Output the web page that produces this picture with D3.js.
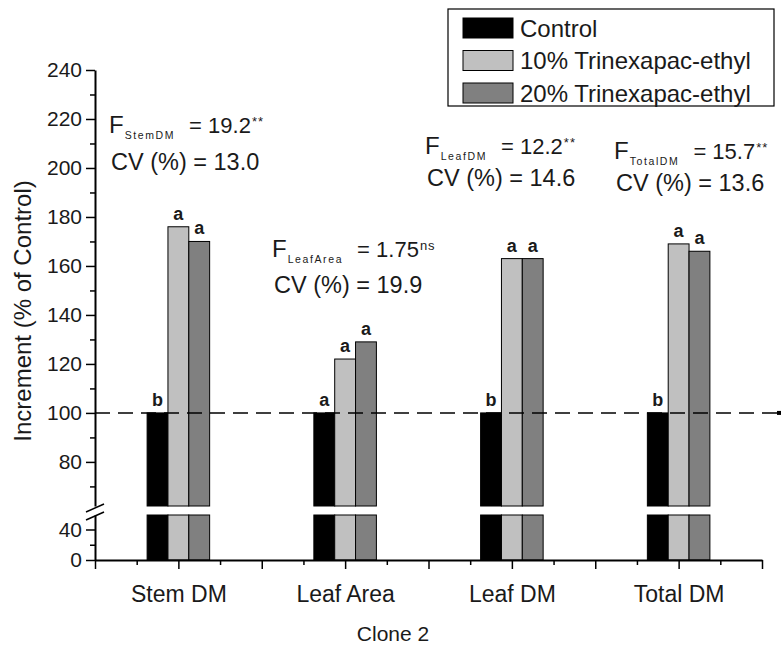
<!DOCTYPE html>
<html>
<head>
<meta charset="utf-8">
<script src="https://cdn.jsdelivr.net/npm/d3@7"></script>
<style>
body { margin: 0; background: #fff; }
text { font-family: Arial, "Liberation Sans", sans-serif; fill: #1a1a1a; }
</style>
</head>
<body>
<svg id="chart" width="783" height="646"></svg>
<script>
// values (Clone 2, % of control)
var categories = ["Stem DM", "Leaf Area", "Leaf DM", "Total DM"];
var seriesNames = ["Control", "10% Trinexapac-ethyl", "20% Trinexapac-ethyl"];
var control = [100, 100, 100, 100];
var trinexapac10 = [176, 122, 163, 169];
var trinexapac20 = [170, 129, 163, 166];
var controlLetters = ["b", "a", "b", "b"];
var letters10 = ["a", "a", "a", "a"];
var letters20 = ["a", "a", "a", "a"];
var fSubscripts = ["StemDM", "LeafArea", "LeafDM", "TotalDM"];
var fValues = ["19.2", "1.75", "12.2", "15.7"];
var fSignif = ["**", "ns", "**", "**"];
var cvValues = ["13.0", "19.9", "14.6", "13.6"];
var upperTicks = [80, 100, 120, 140, 160, 180, 200, 220, 240];
var upperMinor = [70, 90, 110, 130, 150, 170, 190, 210, 230];
var lowerTicks = [0, 40];
var lowerMinor = [20];

var colors = ["#000000", "#c0c0c0", "#808080"];
var series = [control, trinexapac10, trinexapac20];
var letters = [controlLetters, letters10, letters20];

var svg = d3.select("#chart");

var x = d3.scaleLinear().domain([0, 8]).range([95, 762]);
var yUp = d3.scaleLinear().domain([62, 240]).range([506, 70]);
var yLo = d3.scaleLinear().domain([0, 59]).range([560, 515]);
var barW = x(0.25) - x(0);
function catX(i) { return x(2 * i + 1); }

// bars, split at the axis break
series.forEach(function(vals, s) {
    var g = svg.append("g");
    vals.forEach(function(v, i) {
        var cx = catX(i) + (s - 1) * barW;
        g.append("rect")
            .attr("x", cx - barW / 2).attr("width", barW)
            .attr("y", yUp(v)).attr("height", yUp(62) - yUp(v))
            .attr("fill", colors[s]).attr("stroke", "#000").attr("stroke-width", 1);
        g.append("rect")
            .attr("x", cx - barW / 2).attr("width", barW)
            .attr("y", yLo(59)).attr("height", yLo(0) - yLo(59))
            .attr("fill", colors[s]).attr("stroke", "#000").attr("stroke-width", 1);
        svg.append("text")
            .attr("x", cx).attr("y", yUp(v) - 7)
            .attr("text-anchor", "middle")
            .style("font-size", "18px").style("font-weight", "bold")
            .text(letters[s][i]);
    });
});

// reference line at 100 %
svg.append("line")
    .attr("x1", x(0)).attr("x2", 780)
    .attr("y1", yUp(100)).attr("y2", yUp(100))
    .attr("stroke", "#000").attr("stroke-width", 1.5)
    .attr("stroke-dasharray", "15,8");
svg.append("rect").attr("x", 777).attr("y", yUp(100) - 2).attr("width", 4).attr("height", 4);

// y axis (two pieces)
function styleAxis(g) {
    g.selectAll("path").attr("stroke", "#000").attr("stroke-width", 2);
    g.selectAll("line").attr("stroke", "#000").attr("stroke-width", 1.5);
    g.selectAll("text").style("font-size", "21px").attr("fill", "#1a1a1a");
}
var yAxisUp = svg.append("g").attr("transform", "translate(" + x(0) + ",0)")
    .call(d3.axisLeft(yUp).tickValues(upperTicks).tickSize(9).tickSizeOuter(0).tickPadding(4));
styleAxis(yAxisUp);
var yAxisUpMinor = svg.append("g").attr("transform", "translate(" + x(0) + ",0)")
    .call(d3.axisLeft(yUp).tickValues(upperMinor).tickSize(5).tickFormat(""));
yAxisUpMinor.select(".domain").remove();
styleAxis(yAxisUpMinor);
var yAxisLo = svg.append("g").attr("transform", "translate(" + x(0) + ",0)")
    .call(d3.axisLeft(yLo).tickValues(lowerTicks).tickSize(9).tickSizeOuter(0).tickPadding(4));
styleAxis(yAxisLo);
var yAxisLoMinor = svg.append("g").attr("transform", "translate(" + x(0) + ",0)")
    .call(d3.axisLeft(yLo).tickValues(lowerMinor).tickSize(5).tickFormat(""));
yAxisLoMinor.select(".domain").remove();
styleAxis(yAxisLoMinor);

// break marks
[yUp(62) + 2, yLo(59) + 1].forEach(function(yy) {
    svg.append("line")
        .attr("x1", x(0) - 9).attr("y1", yy + 4)
        .attr("x2", x(0) + 9).attr("y2", yy - 4)
        .attr("stroke", "#000").attr("stroke-width", 1.5);
});

// x axis
var xAxis = svg.append("g").attr("transform", "translate(0," + yLo(0) + ")")
    .call(d3.axisBottom(x).tickValues(d3.range(0, 9, 1)).tickSize(9).tickSizeOuter(0).tickPadding(17)
        .tickFormat(function(d) { return d % 2 === 1 ? categories[(d - 1) / 2] : ""; }));
styleAxis(xAxis);
xAxis.selectAll("text").style("font-size", "23px");
var xAxisMinor = svg.append("g").attr("transform", "translate(0," + yLo(0) + ")")
    .call(d3.axisBottom(x).tickValues(d3.range(0.5, 8, 1)).tickSize(5).tickFormat(""));
xAxisMinor.select(".domain").remove();
styleAxis(xAxisMinor);

// axis titles
svg.append("text")
    .attr("transform", "translate(31,311) rotate(-90)")
    .attr("text-anchor", "middle").style("font-size", "24px")
    .text("Increment (% of Control)");
svg.append("text")
    .attr("x", 393).attr("y", 641)
    .attr("text-anchor", "middle").style("font-size", "21px")
    .text("Clone 2");

// F and CV annotations
var annX = [109, 272, 425, 614];
var annFY = [133, 257, 154, 159];
var annCVY = [170, 293, 186, 191];
fSubscripts.forEach(function(sub, i) {
    var t = svg.append("text").attr("x", annX[i]).attr("y", annFY[i]).style("font-size", "22px");
    t.append("tspan").style("font-size", "24px").text("F");
    t.append("tspan").attr("dy", 6).attr("dx", 1).style("font-size", "10.5px").style("letter-spacing", "1.6px").text(sub);
    t.append("tspan").attr("dy", -6).attr("dx", 14).text("= " + fValues[i]);
    t.append("tspan").attr("dy", -7).attr("dx", 1).style("font-size", "13px").style("letter-spacing", "1px").text(fSignif[i]);
    svg.append("text").attr("x", annX[i] + 2).attr("y", annCVY[i]).style("font-size", "23.5px")
        .text("CV (%) = " + cvValues[i]);
});

// legend
var legend = svg.append("g");
legend.append("rect").attr("x", 448).attr("y", 9).attr("width", 326).attr("height", 97)
    .attr("fill", "#fff").attr("stroke", "#000").attr("stroke-width", 1.2);
seriesNames.forEach(function(name, s) {
    var cy = 28 + s * 32.5;
    legend.append("rect").attr("x", 463).attr("y", cy - 10).attr("width", 50).attr("height", 20)
        .attr("fill", colors[s]).attr("stroke", "#000").attr("stroke-width", 1);
    legend.append("text").attr("x", 520).attr("y", cy + 8.5).style("font-size", "24px").text(name);
});
</script>
</body>
</html>
